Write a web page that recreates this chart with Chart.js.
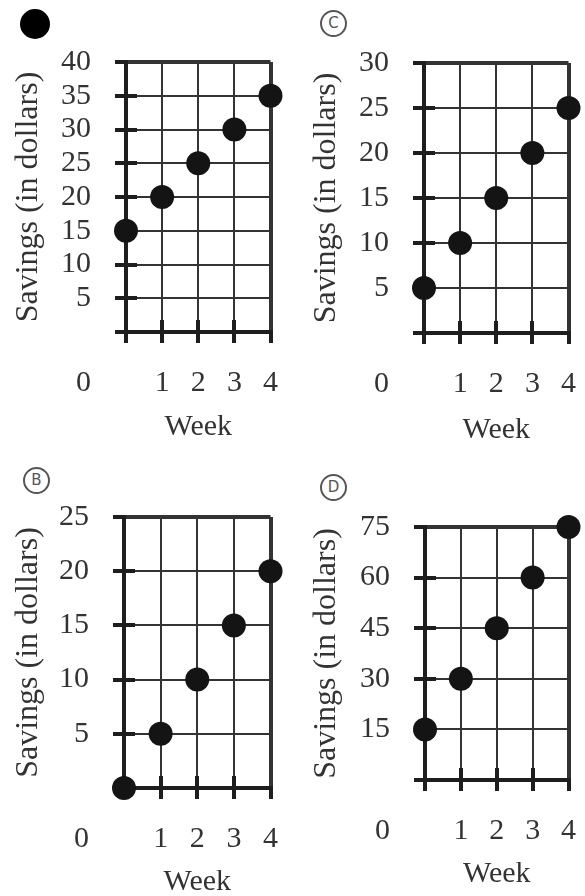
<!DOCTYPE html>
<html>
<head>
<meta charset="utf-8">
<script src="https://cdn.jsdelivr.net/npm/chart.js@4/dist/chart.umd.min.js"></script>
<style>
  body { margin: 0; width: 585px; height: 896px; overflow: hidden; background: #fff; position: relative; }
  canvas { position: absolute; }
  .mark {
    position: absolute; width: 23px; height: 23px; border: 2.5px solid #555; border-radius: 50%;
    font: 15px "DejaVu Sans", sans-serif; color: #555; text-align: center; line-height: 23px;
  }
  .mark.chosen { width: 30px; height: 30px; border: 0; background: #000; }
</style>
</head>
<body>
<div class="mark chosen" style="left:20px;top:9px"></div>
<div class="mark" style="left:320px;top:10px">C</div>
<div class="mark" style="left:23px;top:467px">B</div>
<div class="mark" style="left:320px;top:474px">D</div>

<canvas id="chartA" width="300" height="470" style="left:0;top:0"></canvas>
<canvas id="chartC" width="300" height="470" style="left:298px;top:0"></canvas>
<canvas id="chartB" width="300" height="470" style="left:0;top:448px"></canvas>
<canvas id="chartD" width="300" height="470" style="left:298px;top:448px"></canvas>

<script>
// data
const weeks = [0, 1, 2, 3, 4];
const savingsA = [15, 20, 25, 30, 35];
const savingsB = [0, 5, 10, 15, 20];
const savingsC = [5, 10, 15, 20, 25];
const savingsD = [15, 30, 45, 60, 75];
const yTicksA = [0, 5, 10, 15, 20, 25, 30, 35, 40];
const yTicksB = [0, 5, 10, 15, 20, 25];
const yTicksC = [0, 5, 10, 15, 20, 25, 30];
const yTicksD = [0, 15, 30, 45, 60, 75];

const INK = '#1e1e1e';
const GRID = '#333';
const TEXT = '#333';
const FONT = { family: 'Liberation Serif', size: 30, lineHeight: 1.2 };
const TICK_LEN = 11;
const Y_PAD = 24;
const X_PAD = 22;

// inner halves of the tick marks + the lone "0" at the origin corner
const innerTicks = {
  id: 'innerTicks',
  beforeDatasetsDraw(chart) {
    const { ctx, chartArea: a, scales: { x, y } } = chart;
    ctx.save();
    ctx.strokeStyle = INK;
    ctx.lineWidth = 4;
    ctx.beginPath();
    y.ticks.forEach(t => {
      if (t.value > y.min && t.value < y.max) {
        const py = Math.round(y.getPixelForValue(t.value));
        ctx.moveTo(a.left, py);
        ctx.lineTo(a.left + 11, py);
      }
    });
    x.ticks.forEach(t => {
      if (t.value > x.min && t.value < x.max) {
        const px = Math.round(x.getPixelForValue(t.value));
        ctx.moveTo(px, a.bottom);
        ctx.lineTo(px, a.bottom - 12);
      }
    });
    ctx.stroke();
    ctx.fillStyle = TEXT;
    ctx.font = FONT.size + 'px "' + FONT.family + '"';
    ctx.textAlign = 'right';
    ctx.textBaseline = 'middle';
    ctx.fillText('0', a.left - TICK_LEN - Y_PAD, a.bottom + TICK_LEN + X_PAD + FONT.size * FONT.lineHeight / 2);
    ctx.restore();
  }
};

function makePanel(id, values, yTicks, box) {
  const canvas = document.getElementById(id);
  const W = canvas.width, H = canvas.height;
  const yMax = yTicks[yTicks.length - 1];
  const edgeWidth = (v, max) => (v === 0 || v === max ? 4 : 2);

  new Chart(canvas, {
    type: 'scatter',
    data: {
      datasets: [{
        data: weeks.map((w, i) => ({ x: w, y: values[i] })),
        pointRadius: 12,
        pointHoverRadius: 12,
        backgroundColor: '#141414',
        borderWidth: 0,
        clip: false
      }]
    },
    options: {
      responsive: false,
      animation: false,
      events: [],
      layout: { padding: { left: 0, top: box.top, right: W - box.right, bottom: 0 } },
      plugins: { legend: { display: false }, tooltip: { enabled: false } },
      scales: {
        x: {
          type: 'linear',
          min: 0,
          max: weeks[weeks.length - 1],
          afterBuildTicks: s => { s.ticks = weeks.map(v => ({ value: v })); },
          afterFit: s => { s.height = H - box.bottom; },
          ticks: {
            callback: v => (v === 0 ? '' : String(v)),
            font: FONT, color: TEXT, padding: X_PAD, maxRotation: 0, autoSkip: false
          },
          grid: {
            color: GRID, tickColor: INK, tickLength: TICK_LEN, tickWidth: 4,
            lineWidth: c => edgeWidth(c.tick && c.tick.value, weeks[weeks.length - 1])
          },
          border: { display: true, color: INK, width: 4 },
          title: {
            display: true, text: 'Week', font: FONT, color: TEXT,
            padding: { top: 0, bottom: H - 18 - box.weekY }
          }
        },
        y: {
          min: 0,
          max: yMax,
          afterBuildTicks: s => { s.ticks = yTicks.map(v => ({ value: v })); },
          afterFit: s => { s.width = box.left; },
          ticks: {
            callback: v => (v === 0 ? '' : String(v)),
            font: FONT, color: TEXT, padding: Y_PAD, autoSkip: false
          },
          grid: {
            color: GRID, tickColor: INK, tickLength: TICK_LEN, tickWidth: 4,
            lineWidth: c => edgeWidth(c.tick && c.tick.value, yMax)
          },
          border: { display: true, color: INK, width: 4 },
          title: {
            display: true, text: 'Savings (in dollars)', color: TEXT,
            font: { family: 'Liberation Serif', size: 32, lineHeight: 1.2 },
            padding: { top: 9, bottom: 0 }
          }
        }
      }
    },
    plugins: [innerTicks]
  });
}

makePanel('chartA', savingsA, yTicksA, { left: 126, right: 278, top: 62, bottom: 332, weekY: 427 });
makePanel('chartC', savingsC, yTicksC, { left: 126, right: 278, top: 63, bottom: 333, weekY: 430 });
makePanel('chartB', savingsB, yTicksB, { left: 124, right: 276, top: 69, bottom: 340, weekY: 434 });
makePanel('chartD', savingsD, yTicksD, { left: 127, right: 279, top: 79, bottom: 332, weekY: 426 });
</script>
</body>
</html>
